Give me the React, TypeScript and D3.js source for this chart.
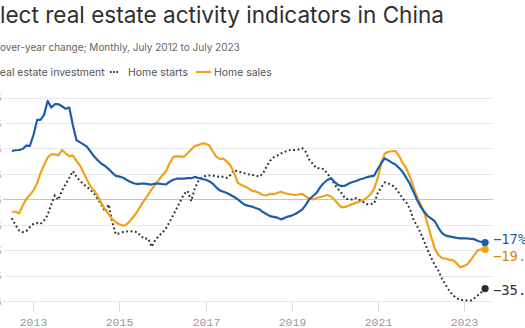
import React, { useEffect, useRef } from "react";
import * as d3 from "d3";

// Monthly, July 2012 to July 2023 (year-over-year % change)
const START_YEAR = 2012;
const START_MONTH = 6; // July (0-based)

const investment = [
  19.0, 19.3, 19.4, 19.8, 21.1, 21.0, 25.3, 31.2, 31.2, 33.2, 38.7, 36.1,
  37.4, 37.4, 36.6, 35.6, 36.1, 29.2, 23.2, 22.4, 21.6, 20.6, 18.7, 16.8,
  15.3, 14.0, 13.1, 11.9, 10.4, 9.2, 8.9, 8.5, 7.7, 6.9, 6.3, 6.0,
  6.2, 6.2, 6.0, 5.8, 6.2, 6.2, 6.0, 5.9, 6.9, 7.7, 8.1, 8.1,
  8.1, 8.3, 8.3, 8.8, 8.4, 8.0, 7.7, 7.1, 6.2, 4.7, 3.5, 3.0,
  2.5, 1.7, 0.9, 0.0, -1.2, -2.2, -2.6, -2.9, -3.4, -3.9, -5.0, -5.8,
  -6.6, -6.9, -7.2, -7.9, -7.4, -6.8, -6.4, -5.8, -5.0, -4.0, -2.2, 0.1,
  1.3, 2.5, 4.8, 6.4, 7.6, 8.3, 6.8, 5.6, 5.2, 5.4, 6.2, 6.8,
  7.2, 7.8, 8.2, 8.7, 9.0, 9.3, 11.9, 14.3, 16.1, 15.3, 14.4, 13.7,
  12.3, 10.7, 8.4, 6.0, 2.9, -0.3, -3.0, -5.0, -6.6, -7.6, -8.7, -11.3,
  -13.3, -14.3, -14.6, -14.9, -15.2, -15.4, -15.4, -15.4, -15.6, -15.7, -16.4, -16.8,
  -17.0,
];

const homeStarts = [
  -7.4, -10.1, -12.3, -12.9, -12.5, -10.9, -9.7, -9.3, -9.7, -8.3, -6.2, -2.0,
  1.5, -0.2, 3.5, 6.0, 8.5, 11.1, 8.8, 7.2, 6.0, 4.8, 3.7, 2.1,
  0.1, -2.2, -4.8, -2.0, -9.0, -13.7, -13.4, -12.9, -12.7, -12.5, -12.7, -12.9,
  -14.4, -15.6, -15.4, -18.7, -16.0, -14.4, -13.1, -11.3, -8.9, -6.2, -3.5, -0.7,
  2.0, 3.3, -0.7, 4.3, 7.2, 8.6, 9.2, 9.4, 9.4, 9.0, 8.8, 8.9,
  8.4, 9.6, 11.5, 10.9, 10.6, 10.2, 9.8, 9.6, 9.4, 8.9, 10.0, 12.7,
  15.1, 16.5, 17.2, 18.0, 18.6, 19.2, 19.4, 19.4, 19.6, 20.1, 18.6, 15.5,
  13.9, 12.2, 12.2, 11.9, 10.0, 8.4, 5.8, 3.9, 2.3, 0.3, -0.1, -0.1,
  0.5, -0.3, -1.1, -1.9, -1.9, -1.7, 2.5, 4.8, 6.6, 6.2, 5.6, 4.4,
  2.5, 0.3, -1.3, -3.8, -8.1, -10.5, -13.3, -16.8, -20.0, -23.1, -25.9, -28.2,
  -31.4, -33.7, -36.1, -37.7, -38.9, -39.6, -39.6, -39.8, -39.8, -38.9, -37.7, -36.5,
  -35.1,
];

const homeSales = [
  -4.9, -4.9, -5.6, -2.5, 0.1, 1.7, 3.5, 6.3, 10.2, 13.5, 16.4, 17.7,
  17.7, 17.3, 19.4, 18.1, 17.0, 17.2, 15.1, 13.2, 10.6, 7.6, 5.0, 3.4,
  1.2, -1.5, -4.0, -5.8, -7.8, -9.0, -9.8, -10.4, -9.9, -8.4, -6.8, -4.8,
  -2.5, -0.2, 1.8, 3.9, 5.8, 7.6, 9.6, 11.1, 14.2, 16.6, 17.0, 16.8,
  16.8, 18.1, 19.6, 21.0, 21.3, 22.0, 21.9, 21.2, 19.0, 16.8, 15.9, 15.9,
  14.8, 13.2, 10.2, 6.5, 5.6, 5.0, 4.3, 3.3, 3.1, 2.5, 1.7, 1.5,
  2.1, 2.0, 2.5, 3.0, 2.5, 2.1, 1.9, 1.7, 1.9, 2.1, 1.1, 0.3,
  0.0, 0.5, 0.9, 1.3, 1.7, 1.1, -0.3, -1.9, -3.2, -3.0, -2.4, -1.9,
  -1.3, -0.9, -0.3, 0.7, 2.0, 4.1, 8.4, 14.3, 18.0, 18.7, 18.9, 19.0,
  17.0, 14.3, 12.1, 8.8, 4.8, 0.8, -2.0, -5.5, -10.0, -15.0, -19.5, -22.0,
  -23.1, -23.4, -23.7, -23.9, -25.1, -26.7, -26.3, -25.5, -23.9, -21.9, -20.0, -19.7,
  -19.7,
];

const yTicks = [-40, -30, -20, -10, 0, 10, 20, 30, 40];
const xTickYears = [2013, 2015, 2017, 2019, 2021, 2023];
const seriesNames = ["Real estate investment", "Home starts", "Home sales"];
const TITLE = "Select real estate activity indicators in China";
const SUBTITLE = "Year-over-year change; Monthly, July 2012 to July 2023";

const BLUE = "#1c5eab";
const ORANGE = "#f5a01a";
const DARK = "#2b2b38";

export default function App() {
  const ref = useRef<SVGSVGElement>(null);

  useEffect(() => {
    const svg = d3.select(ref.current as SVGSVGElement);
    svg.selectAll("*").remove();

    const sans = "Inter, 'Noto Sans', sans-serif";
    const mono = "'Liberation Mono', 'DejaVu Sans Mono', monospace";
    const mono2 = "'DejaVu Sans Mono', 'Liberation Mono', monospace";

    const measure = (txt: string, size: number, family: string, weight = 400) => {
      const t = svg
        .append("text")
        .attr("font-size", size)
        .attr("font-family", family)
        .attr("font-weight", weight)
        .text(txt);
      const w = (t.node() as SVGTextElement).getComputedTextLength();
      t.remove();
      return w;
    };

    // ---- Header (cropped on the left like the reference) ----
    const titleW = 400;
    let ts = 22;
    ts = (ts * 444) / measure(TITLE.slice(2), ts, sans, titleW);
    svg
      .append("text")
      .attr("x", -measure(TITLE.slice(0, 2), ts, sans, titleW))
      .attr("y", 23)
      .attr("font-family", sans)
      .attr("font-weight", titleW)
      .attr("font-size", ts)
      .attr("fill", "#2f2f2f")
      .text(TITLE);

    let ss = 11;
    ss = (ss * 240) / measure(SUBTITLE.slice(5), ss, sans);
    svg
      .append("text")
      .attr("x", -measure(SUBTITLE.slice(0, 5), ss, sans))
      .attr("y", 50.5)
      .attr("font-family", sans)
      .attr("font-size", ss)
      .attr("fill", "#666")
      .text(SUBTITLE);

    let ls = 11;
    ls = (ls * 60) / measure(seriesNames[1], ls, sans);
    const legY = 76;
    const lg = svg.append("g").attr("font-family", sans).attr("font-size", ls).attr("fill", "#555");
    const rx = -measure("R", ls, sans);
    lg.append("line").attr("x1", rx - 22).attr("x2", rx - 5).attr("y1", legY - 4).attr("y2", legY - 4)
      .attr("stroke", BLUE).attr("stroke-width", 2.2);
    lg.append("text").attr("x", rx).attr("y", legY).text(seriesNames[0]);
    lg.append("line").attr("x1", 110).attr("x2", 119).attr("y1", legY - 4).attr("y2", legY - 4)
      .attr("stroke", DARK).attr("stroke-width", 2).attr("stroke-dasharray", "1.6 1.6");
    lg.append("text").attr("x", 128).attr("y", legY).text(seriesNames[1]);
    lg.append("line").attr("x1", 196).attr("x2", 211).attr("y1", legY - 4).attr("y2", legY - 4)
      .attr("stroke", ORANGE).attr("stroke-width", 2.2);
    lg.append("text").attr("x", 214).attr("y", legY).text(seriesNames[2]);

    // ---- Scales ----
    const months = investment.map((_, i) => new Date(START_YEAR, START_MONTH + i, 1));
    const x = d3.scaleTime().domain([months[0], months[months.length - 1]]).range([11.8, 485.1]);
    const y = d3.scaleLinear().domain([-40, 40]).range([301, 97.6]);
    const gridX0 = 3;
    const gridX1 = 493;

    // grid
    const grid = svg.append("g");
    yTicks.forEach((t) => {
      grid
        .append("line")
        .attr("x1", gridX0)
        .attr("x2", gridX1)
        .attr("y1", Math.round(y(t)) + 0.5)
        .attr("y2", Math.round(y(t)) + 0.5)
        .attr("stroke", t === 0 ? "#c4c4c4" : "#e9e9e9")
        .attr("stroke-width", 1.2);
      grid
        .append("text")
        .attr("x", 1)
        .attr("y", y(t))
        .attr("dy", "0.35em")
        .attr("text-anchor", "end")
        .attr("font-family", mono)
        .attr("font-size", 11)
        .attr("fill", "#999")
        .text(`${t}%`);
    });

    // x ticks
    const xa = svg.append("g");
    xTickYears.forEach((yr) => {
      const xx = Math.round(x(new Date(yr, 0, 1))) + 0.5;
      xa.append("line").attr("x1", xx).attr("x2", xx).attr("y1", y(-40)).attr("y2", y(-40) + 11)
        .attr("stroke", "#dcdcdc").attr("stroke-width", 1);
      xa.append("text").attr("x", xx).attr("y", 326).attr("text-anchor", "middle")
        .attr("font-family", mono).attr("font-size", 11.5).attr("fill", "#999").text(String(yr));
    });

    // lines
    const line = d3
      .line<number>()
      .x((_, i) => x(months[i]))
      .y((d) => y(d))
      .curve(d3.curveLinear);

    svg.append("path").attr("d", line(homeStarts) as string).attr("fill", "none")
      .attr("stroke", DARK).attr("stroke-width", 2).attr("stroke-dasharray", "1.8 2.6");
    svg.append("path").attr("d", line(homeSales) as string).attr("fill", "none")
      .attr("stroke", ORANGE).attr("stroke-width", 2.2).attr("stroke-linejoin", "round");
    svg.append("path").attr("d", line(investment) as string).attr("fill", "none")
      .attr("stroke", BLUE).attr("stroke-width", 2.2).attr("stroke-linejoin", "round");

    // end dots and labels
    const last = months.length - 1;
    const ends = [
      { v: investment[last], c: BLUE, tc: "#1c5eab" },
      { v: homeSales[last], c: ORANGE, tc: "#d9820f" },
      { v: homeStarts[last], c: DARK, tc: "#333" },
    ].map((d) => ({ ...d, y: y(d.v), ly: y(d.v) }));
    const sorted = [...ends].sort((a, b) => a.y - b.y);
    const gap = 17;
    for (let k = 1; k < sorted.length; k++) {
      const a = sorted[k - 1], b = sorted[k];
      if (b.ly - a.ly < gap) {
        const mid = (a.ly + b.ly) / 2;
        a.ly = mid - gap / 2;
        b.ly = mid + gap / 2;
      }
    }
    const fmt = (v: number) => `${+v.toFixed(1)}%`.replace("-", "\u2212");
    ends.forEach((d) => {
      svg.append("circle").attr("cx", x(months[last])).attr("cy", d.y).attr("r", 3.6).attr("fill", d.c);
      svg.append("text").attr("x", 493).attr("y", d.ly + 2).attr("dy", "0.35em")
        .attr("font-family", mono2).attr("font-size", 13.8).attr("fill", d.tc).text(fmt(d.v));
    });
  }, []);

  return (
    <svg
      ref={ref}
      width={525}
      height={328}
      style={{ position: "absolute", left: 0, top: 0, background: "#fff" }}
    />
  );
}
